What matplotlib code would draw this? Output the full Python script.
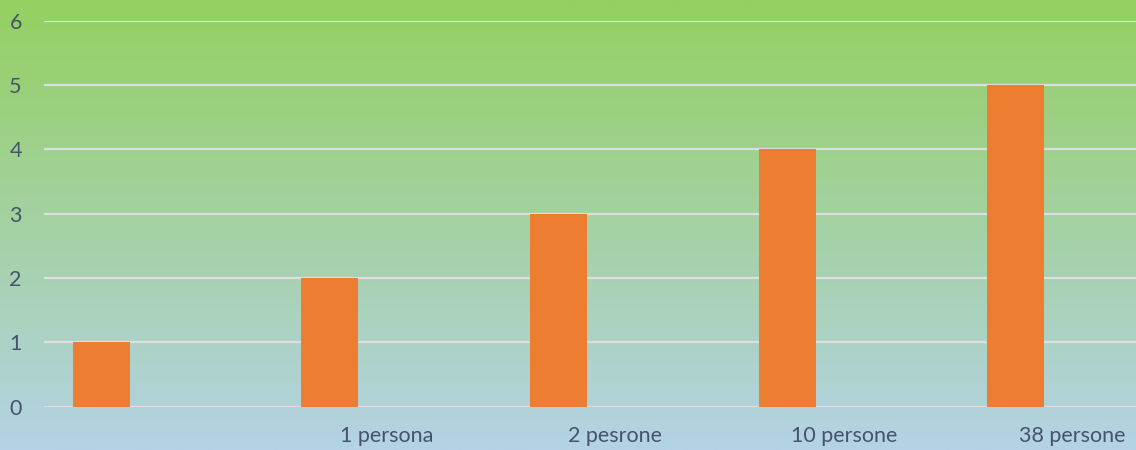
import matplotlib.pyplot as plt
import numpy as np
from matplotlib.colors import LinearSegmentedColormap

# Data
categories = ['', '1 persona', '2 pesrone', '10 persone', '38 persone']
values = [1, 2, 3, 4, 5]

W, H = 1136, 450
fig = plt.figure(figsize=(W / 100, H / 100), dpi=100)

# gradient background (green on top to light blue at bottom)
bg = fig.add_axes([0, 0, 1, 1], zorder=-1)
grad = np.linspace(0, 1, 256).reshape(-1, 1)
cmap = LinearSegmentedColormap.from_list('bg', ['#94D060', '#B4D3E6'])
bg.imshow(grad, aspect='auto', cmap=cmap, extent=[0, 1, 0, 1])
bg.axis('off')

left = 44 / W
bottom = (H - 406.7) / H
top = (H - 20.5) / H
ax = fig.add_axes([left, bottom, 1 - left, top - bottom])
ax.patch.set_alpha(0)

slot = 228.5
x = np.arange(len(categories))
bar_off = (73 + 28.5 - 44) / slot
ax.bar(x + bar_off, values, width=57 / slot, color='#ED7D31', zorder=3)

ax.set_xlim(0, (W - 44) / slot)
ax.set_ylim(0, 6)
ax.set_yticks(range(7))
ax.yaxis.grid(True, color='#DCDEDF', linewidth=1.6, zorder=0)
ax.set_xticks(x + 0.5)
ax.set_xticklabels(categories)

txt = '#44546A'
ax.tick_params(axis='y', length=0, pad=16, labelsize=15.5, labelcolor=txt)
ax.tick_params(axis='x', length=0, pad=14, labelsize=15.5, labelcolor=txt)
for lab in ax.get_xticklabels() + ax.get_yticklabels():
    lab.set_family(['Lato', 'DejaVu Sans'])
for s in ax.spines.values():
    s.set_visible(False)

fig.savefig('out.png', dpi=100)
